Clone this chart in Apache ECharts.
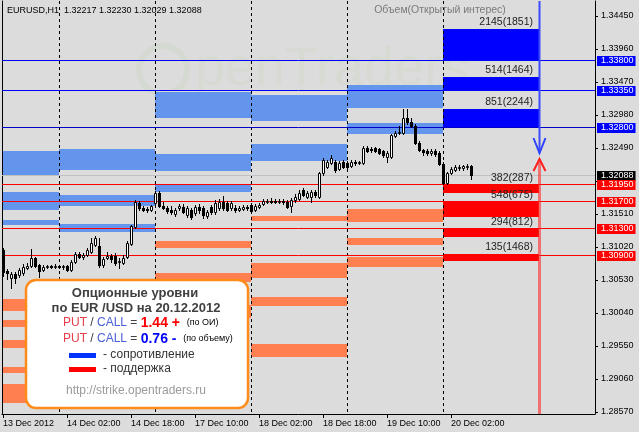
<!DOCTYPE html>
<html><head><meta charset="utf-8">
<script src="https://cdn.jsdelivr.net/npm/echarts@6/dist/echarts.min.js"></script>
<style>html,body{margin:0;padding:0;background:#DCDCDC}#c{width:639px;height:432px}</style>
</head><body><div id="c"></div>
<script>
// ---------- DATA ----------
const symbolTitle = 'EURUSD,H1';
const xTickIdx = [0, 16, 32, 48, 64, 80, 96, 112];
const xTickText = ['13 Dec 2012', '14 Dec 02:00', '14 Dec 18:00', '17 Dec 10:00', '18 Dec 02:00', '18 Dec 18:00', '19 Dec 10:00', '20 Dec 02:00'];
const yTickValues = [1.2857, 1.2906, 1.2955, 1.3004, 1.3053, 1.3102, 1.3151, 1.3200, 1.3249, 1.3298, 1.3347, 1.3396, 1.3445];
const yMin = 1.28539, yMax = 1.34672;
const xMin = -0.25, xMax = 148;

const opens = [1.30975,1.30662,1.30558,1.30618,1.30603,1.30633,1.30707,1.30737,1.30855,1.30752,1.30677,1.30722,1.30737,1.30722,1.30737,1.30722,1.30737,1.30677,1.30796,1.30915,1.30870,1.30900,1.30945,1.31049,1.31034,1.30752,1.30855,1.30885,1.30885,1.30796,1.30781,1.30870,1.31064,1.31316,1.31672,1.31598,1.31583,1.31569,1.31672,1.31821,1.31628,1.31598,1.31569,1.31509,1.31598,1.31613,1.31494,1.31569,1.31524,1.31613,1.31598,1.31479,1.31613,1.31539,1.31598,1.31687,1.31672,1.31598,1.31598,1.31569,1.31583,1.31613,1.31643,1.31569,1.31613,1.31658,1.31687,1.31702,1.31702,1.31687,1.31702,1.31687,1.31628,1.31717,1.31732,1.31866,1.31761,1.31761,1.31836,1.31761,1.32118,1.32207,1.32266,1.32281,1.32177,1.32281,1.32266,1.32222,1.32281,1.32266,1.32266,1.32489,1.32474,1.32489,1.32474,1.32445,1.32356,1.32356,1.32667,1.32712,1.32712,1.32935,1.32875,1.32816,1.32563,1.32460,1.32445,1.32415,1.32445,1.32415,1.32252,1.31969,1.32118,1.32163,1.32192,1.32192,1.32207,1.32217];
const closes = [1.30648,1.30633,1.30618,1.30558,1.30677,1.30722,1.30737,1.30855,1.30737,1.30662,1.30722,1.30737,1.30722,1.30737,1.30722,1.30737,1.30677,1.30796,1.30915,1.30870,1.30900,1.30975,1.31078,1.31153,1.30752,1.30841,1.30885,1.30841,1.30781,1.30811,1.30855,1.31078,1.31331,1.31687,1.31598,1.31569,1.31569,1.31628,1.31821,1.31628,1.31598,1.31554,1.31539,1.31569,1.31628,1.31539,1.31598,1.31465,1.31613,1.31569,1.31494,1.31539,1.31539,1.31672,1.31687,1.31598,1.31569,1.31672,1.31569,1.31598,1.31613,1.31598,1.31554,1.31628,1.31643,1.31702,1.31702,1.31687,1.31687,1.31702,1.31687,1.31613,1.31717,1.31761,1.31821,1.31791,1.31821,1.31836,1.31791,1.32118,1.32311,1.32281,1.32341,1.32163,1.32266,1.32207,1.32207,1.32281,1.32266,1.32281,1.32489,1.32445,1.32460,1.32445,1.32415,1.32385,1.32415,1.32682,1.32712,1.32727,1.32935,1.32875,1.32816,1.32563,1.32460,1.32430,1.32415,1.32445,1.32400,1.32252,1.31969,1.32118,1.32177,1.32207,1.32207,1.32222,1.32222,1.32088];
const highs = [1.31004,1.30692,1.30648,1.30648,1.30707,1.30766,1.30781,1.30989,1.30870,1.30766,1.30752,1.30752,1.30752,1.30766,1.30752,1.30752,1.30752,1.30826,1.30945,1.30945,1.30930,1.31004,1.31153,1.31182,1.31153,1.30870,1.30945,1.30915,1.30930,1.30855,1.30900,1.31108,1.31346,1.31717,1.31702,1.31628,1.31613,1.31643,1.31851,1.31851,1.31687,1.31628,1.31628,1.31598,1.31658,1.31658,1.31628,1.31598,1.31643,1.31658,1.31628,1.31569,1.31643,1.31717,1.31732,1.31776,1.31702,1.31702,1.31643,1.31628,1.31643,1.31643,1.31672,1.31658,1.31672,1.31732,1.31732,1.31747,1.31732,1.31732,1.31732,1.31717,1.31747,1.31806,1.31866,1.31895,1.31851,1.31866,1.31866,1.32133,1.32341,1.32311,1.32385,1.32311,1.32296,1.32311,1.32296,1.32311,1.32311,1.32296,1.32519,1.32519,1.32504,1.32504,1.32489,1.32460,1.32445,1.32697,1.32742,1.32816,1.33068,1.33068,1.32935,1.32846,1.32593,1.32474,1.32474,1.32474,1.32474,1.32445,1.32281,1.32133,1.32207,1.32237,1.32237,1.32237,1.32252,1.32230];
const lows = [1.30588,1.30544,1.30410,1.30484,1.30573,1.30603,1.30692,1.30722,1.30722,1.30573,1.30662,1.30707,1.30707,1.30707,1.30707,1.30692,1.30662,1.30662,1.30781,1.30855,1.30841,1.30885,1.30930,1.31034,1.30722,1.30722,1.30841,1.30796,1.30752,1.30707,1.30766,1.30855,1.31049,1.31301,1.31569,1.31554,1.31539,1.31554,1.31658,1.31613,1.31583,1.31524,1.31509,1.31479,1.31569,1.31524,1.31465,1.31435,1.31494,1.31524,1.31450,1.31450,1.31509,1.31509,1.31569,1.31569,1.31554,1.31569,1.31539,1.31554,1.31569,1.31569,1.31524,1.31554,1.31598,1.31643,1.31672,1.31672,1.31672,1.31672,1.31658,1.31598,1.31539,1.31687,1.31717,1.31776,1.31747,1.31687,1.31761,1.31747,1.32088,1.32192,1.32252,1.32133,1.32163,1.32192,1.32192,1.32207,1.32237,1.32252,1.32252,1.32430,1.32430,1.32430,1.32400,1.32356,1.32281,1.32341,1.32653,1.32697,1.32697,1.32846,1.32801,1.32549,1.32445,1.32385,1.32385,1.32385,1.32370,1.32237,1.31955,1.31955,1.32103,1.32148,1.32163,1.32163,1.32177,1.32029];

// day separators (bar index of midnight)
const daySeparators = [14, 38, 62, 86, 110];

// option zones per day: [startBar, endBar, low, high]
const resistZones = [
  [0,14,1.32088,1.32445],[0,14,1.31569,1.31836],[0,14,1.31346,1.31420],
  [14,38,1.32163,1.32474],[14,38,1.31628,1.31791],[14,38,1.31242,1.31361],
  [38,62,1.32935,1.33321],[38,62,1.32148,1.32400],[38,62,1.31836,1.31940],
  [62,86,1.32890,1.33276],[62,86,1.32296,1.32549],
  [86,110,1.33083,1.33425],[86,110,1.32697,1.32860]
];
const supportZones = [
  [0,14,1.30069,1.30247],[0,14,1.29831,1.29935],[0,14,1.29519,1.29638],[0,14,1.29148,1.29237],[0,14,1.28702,1.28985],
  [38,62,1.31004,1.31108],[38,62,1.30499,1.30633],[38,62,1.29965,1.30158],
  [62,86,1.31405,1.31479],[62,86,1.30558,1.30781],[62,86,1.30143,1.30277],[62,86,1.29386,1.29579],
  [86,110,1.31390,1.31583],[86,110,1.31049,1.31153],[86,110,1.30722,1.30870]
];

// today's strikes: volume (open interest) bars
const callBars = [[110,134,1.33796,1.34256],[110,134,1.33351,1.33544],[110,134,1.32786,1.33068]];
const callLabels = ['2145(1851)', '514(1464)', '851(2244)'];
const putBars = [[110,134,1.31821,1.31940],[110,134,1.31465,1.31687],[110,134,1.31168,1.31286],[110,134,1.30811,1.30915]];
const putLabels = ['382(287)', '548(675)', '294(812)', '135(1468)'];

// horizontal levels
const levelPrices = [1.33800, 1.33350, 1.32800, 1.32088, 1.31950, 1.31700, 1.31300, 1.30900];
const levelKinds  = ['call', 'call', 'call2', 'price', 'put', 'put', 'put', 'put'];

// arrows: [bar, fromPrice, tipPrice, direction(1 down / -1 up)]
const arrows = [[134, 1.34672, 1.32415, 1], [134, 1.28539, 1.32326, -1]];

const putCallOI = '1.44 +';
const putCallVol = '0.76 -';

// ---------- RENDER ----------
const FONT = '"Liberation Sans", Arial, sans-serif';
const chart = echarts.init(document.getElementById('c'), null, {renderer: 'canvas', width: 639, height: 432});

const levelStyle = {
  call:  {line: '#0000FF', bg: '#0000FF', text: '#FFFFFF'},
  call2: {line: '#0000C8', bg: '#0000FF', text: '#FFFFFF'},
  price: {line: '#C0C0C0', bg: '#000000', text: '#FFFFFF'},
  put:   {line: '#FF0000', bg: '#FF0000', text: '#FFFFFF'}
};

function zoneRenderer(color) {
  return function (params, api) {
    const p0 = api.coord([api.value(0), api.value(3)]);
    const p1 = api.coord([api.value(1), api.value(2)]);
    const x0 = Math.round(p0[0]), x1 = Math.round(p1[0]);
    const y0 = Math.round(p0[1]), y1 = Math.round(p1[1]);
    return {type: 'rect', shape: {x: x0, y: y0, width: x1 - x0, height: y1 - y0}, style: {fill: color}};
  };
}

function labelRenderer(labels) {
  return function (params, api) {
    const p = api.coord([api.value(1), api.value(3)]);
    return {type: 'text', x: Math.round(p[0]) - 6, y: Math.round(p[1]) - 1,
      style: {text: labels[params.dataIndex], fill: '#222', font: '10.5px ' + FONT, align: 'right', verticalAlign: 'bottom'}};
  };
}

function renderCandle(params, api) {
  const i = api.value(0), o = api.value(1), c = api.value(2), l = api.value(3), h = api.value(4);
  const pO = api.coord([i, o]);
  const x = Math.round(pO[0]);
  const yO = Math.round(pO[1]), yC = Math.round(api.coord([i, c])[1]);
  const yH = Math.round(api.coord([i, h])[1]), yL = Math.round(api.coord([i, l])[1]);
  const top = Math.min(yO, yC), bot = Math.max(yO, yC);
  const wick = {type: 'line', shape: {x1: x + 0.5, y1: yH, x2: x + 0.5, y2: yL + 1}, style: {stroke: '#000', lineWidth: 1}};
  let body;
  if (c > o) {
    body = {type: 'rect', shape: {x: x - 0.5, y: top + 0.5, width: 2, height: Math.max(bot - top, 1)}, style: {fill: '#FFFFFF', stroke: '#000', lineWidth: 1}};
  } else {
    body = {type: 'rect', shape: {x: x - 1, y: top, width: 3, height: Math.max(bot - top, 0) + 1}, style: {fill: '#000'}};
  }
  return {type: 'group', children: [wick, body]};
}

function renderSeparator(params, api) {
  const cs = params.coordSys;
  const x = Math.round(api.coord([api.value(0), yMin])[0]) + 0.5;
  return {type: 'line', shape: {x1: x, y1: cs.y, x2: x, y2: cs.y + cs.height}, style: {stroke: '#000', lineWidth: 1, lineDash: [3, 3]}};
}

function renderLevel(params, api) {
  const cs = params.coordSys;
  const price = api.value(0);
  const st = levelStyle[levelKinds[params.dataIndex]];
  const y = Math.round(api.coord([0, price])[1]) + 0.5;
  return {type: 'group', children: [
    {type: 'line', shape: {x1: cs.x, y1: y, x2: cs.x + cs.width, y2: y}, style: {stroke: st.line, lineWidth: 1}},
    {type: 'text', x: cs.x + cs.width + 2, y: Math.round(y),
      style: {text: price.toFixed(5), fill: st.text, backgroundColor: st.bg, padding: [1, 2, 0, 4], font: '9px ' + FONT, align: 'left', verticalAlign: 'middle'}}
  ]};
}

function renderArrow(params, api) {
  const i = api.value(0), from = api.value(1), tip = api.value(2), dir = api.value(3);
  const pF = api.coord([i, from]), pT = api.coord([i, tip]);
  const x = Math.round(pT[0]) + 0.5, yt = Math.round(pT[1]);
  const down = dir > 0;
  const col = down ? '#2F43FF' : '#FF2020';
  const armY = down ? yt - 15 : yt + 12;
  return {type: 'group', children: [
    {type: 'line', shape: {x1: x, y1: Math.round(pF[1]), x2: x, y2: yt}, style: {stroke: down ? '#3A4BFF' : 'rgba(255,40,40,0.6)', lineWidth: down ? 2 : 3}},
    {type: 'polyline', shape: {points: [[x - 6, armY], [x, yt], [x + 6, armY]]}, style: {stroke: col, lineWidth: 2, fill: null}}
  ]};
}

const option = {
  animation: false,
  backgroundColor: '#DCDCDC',
  tooltip: {show: false},
  grid: {left: 2, top: 1, width: 593, height: 413, containLabel: false},
  xAxis: {
    type: 'value', min: xMin, max: xMax,
    axisLine: {show: true, onZero: false, lineStyle: {color: '#000', width: 1}},
    axisTick: {show: true, length: 4, customValues: xTickIdx, lineStyle: {color: '#000'}},
    axisLabel: {customValues: xTickIdx, formatter: v => { const k = xTickIdx.indexOf(Math.round(v)); return k >= 0 ? xTickText[k] : ''; },
      align: 'left', margin: 5, color: '#000', fontSize: 9, fontFamily: FONT, showMinLabel: true, showMaxLabel: true},
    splitLine: {show: false}
  },
  yAxis: [{
    type: 'value', position: 'right', min: yMin, max: yMax,
    axisLine: {show: true, onZero: false, lineStyle: {color: '#000'}},
    axisTick: {show: true, length: 3, customValues: yTickValues, lineStyle: {color: '#000'}},
    axisLabel: {customValues: yTickValues, formatter: v => v.toFixed(5), margin: 6, color: '#000', fontSize: 9, fontFamily: FONT},
    splitLine: {show: false}
  }, {
    type: 'value', position: 'left', min: 0, max: 1,
    axisLine: {show: true, onZero: false, lineStyle: {color: '#000'}},
    axisTick: {show: false}, axisLabel: {show: false}, splitLine: {show: false}
  }],
  series: [
    {type: 'custom', name: 'resist', z: 1, silent: true, clip: false, renderItem: zoneRenderer('#6495ED'), data: resistZones, encode: {x: 0, y: 3}},
    {type: 'custom', name: 'support', z: 1, silent: true, clip: false, renderItem: zoneRenderer('#FF7F50'), data: supportZones, encode: {x: 0, y: 3}},
    {type: 'custom', name: 'calls', z: 1, silent: true, clip: false, renderItem: zoneRenderer('#0000FF'), data: callBars, encode: {x: 0, y: 3}},
    {type: 'custom', name: 'puts', z: 1, silent: true, clip: false, renderItem: zoneRenderer('#FF0000'), data: putBars, encode: {x: 0, y: 3}},
    {type: 'custom', name: 'sep', z: 2, silent: true, clip: false, renderItem: renderSeparator, data: daySeparators.map(v => [v, yMin]), encode: {x: 0, y: 1}},
    {type: 'custom', name: 'levels', z: 3, silent: true, clip: false, renderItem: renderLevel, data: levelPrices.map((p, k) => [p, k]), encode: {x: 1, y: 0}},
    {type: 'custom', name: 'candles', z: 4, silent: true, clip: false, renderItem: renderCandle,
      data: opens.map((o, i) => [i, o, closes[i], lows[i], highs[i]]), encode: {x: 0, y: [1, 2, 3, 4]}},
    {type: 'custom', name: 'callLabels', z: 5, silent: true, clip: false, renderItem: labelRenderer(callLabels), data: callBars, encode: {x: 0, y: 3}},
    {type: 'custom', name: 'putLabels', z: 5, silent: true, clip: false, renderItem: labelRenderer(putLabels), data: putBars, encode: {x: 0, y: 3}},
    {type: 'custom', name: 'arrows', z: 6, silent: true, clip: false, renderItem: renderArrow, data: arrows, encode: {x: 0, y: 2}}
  ],
  graphic: [
    // faint watermark
    {type: 'circle', z: 0, silent: true, shape: {cx: 163, cy: 70, r: 24}, style: {fill: null, stroke: 'rgba(150,195,120,0.10)', lineWidth: 6}},
    {type: 'text', z: 0, silent: true, x: 195, y: 70, style: {text: 'penTraders', font: '54px ' + FONT, fill: 'rgba(150,200,120,0.08)', verticalAlign: 'middle'}},
    {type: 'text', z: 50, silent: true, x: 7, y: 11, style: {
      text: symbolTitle + '  ' + [opens[117], highs[117], lows[117], closes[117]].map(v => v.toFixed(5)).join(' '),
      font: '9px ' + FONT, fill: '#000', verticalAlign: 'middle'}},
    {type: 'text', z: 50, silent: true, x: 440, y: 10, style: {text: 'Объем(Открытый интерес)', font: '10.5px ' + FONT, fill: '#7A7A7A', align: 'center', verticalAlign: 'middle'}},
    // info box
    {type: 'rect', z: 100, silent: true, shape: {x: 26, y: 280, width: 222, height: 128, r: 10}, style: {fill: '#FFFFFF', stroke: '#FF8C1A', lineWidth: 2.5}},
    {type: 'text', z: 101, silent: true, x: 135, y: 293, style: {text: 'Опционные уровни', font: 'bold 13px ' + FONT, fill: '#404040', align: 'center', verticalAlign: 'middle'}},
    {type: 'text', z: 101, silent: true, x: 136, y: 308, style: {text: 'по EUR /USD на 20.12.2012', font: 'bold 13px ' + FONT, fill: '#404040', align: 'center', verticalAlign: 'middle'}},
    {type: 'text', z: 101, silent: true, x: 63, y: 323, style: {
      text: '{r|PUT} {d|/} {b|CALL} {d|=} {rb|' + putCallOI + '}  {s|(по ОИ)}',
      font: '12px ' + FONT, verticalAlign: 'middle',
      rich: {r: {fill: '#E8404A', font: '12px ' + FONT}, d: {fill: '#404040', font: '12px ' + FONT}, b: {fill: '#4A60D8', font: '12px ' + FONT},
             rb: {fill: '#FF0000', font: 'bold 14px ' + FONT}, s: {fill: '#000', font: '9px ' + FONT}}}},
    {type: 'text', z: 101, silent: true, x: 63, y: 339, style: {
      text: '{r|PUT} {d|/} {b|CALL} {d|=} {bb|' + putCallVol + '}  {s|(по объему)}',
      font: '12px ' + FONT, verticalAlign: 'middle',
      rich: {r: {fill: '#E8404A', font: '12px ' + FONT}, d: {fill: '#404040', font: '12px ' + FONT}, b: {fill: '#4A60D8', font: '12px ' + FONT},
             bb: {fill: '#0000FF', font: 'bold 14px ' + FONT}, s: {fill: '#000', font: '9px ' + FONT}}}},
    {type: 'rect', z: 101, silent: true, shape: {x: 69, y: 353, width: 27, height: 5}, style: {fill: '#0033FF'}},
    {type: 'text', z: 101, silent: true, x: 103, y: 355, style: {text: '- сопротивление', font: '12px ' + FONT, fill: '#333', verticalAlign: 'middle'}},
    {type: 'rect', z: 101, silent: true, shape: {x: 69, y: 367, width: 27, height: 5}, style: {fill: '#FF0000'}},
    {type: 'text', z: 101, silent: true, x: 103, y: 369, style: {text: '- поддержка', font: '12px ' + FONT, fill: '#333', verticalAlign: 'middle'}},
    {type: 'text', z: 101, silent: true, x: 136, y: 391, style: {text: 'http://strike.opentraders.ru', font: '12px ' + FONT, fill: '#9A9A9A', align: 'center', verticalAlign: 'middle'}}
  ]
};
chart.setOption(option);
</script>
</body></html>
